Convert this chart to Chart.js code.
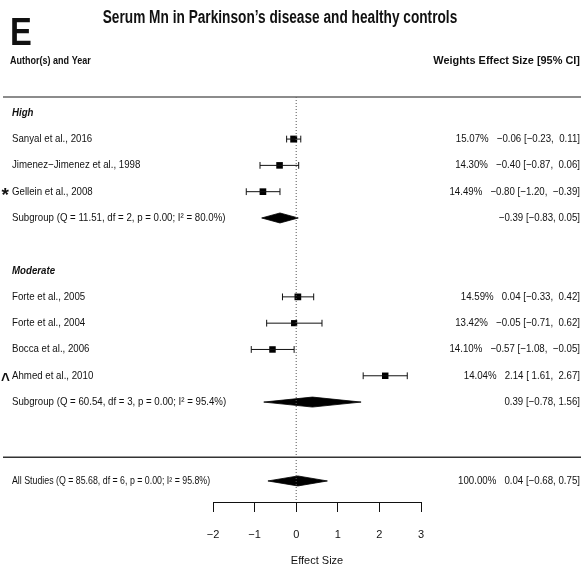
<!DOCTYPE html>
<html>
<head>
<meta charset="utf-8">
<script src="https://cdn.jsdelivr.net/npm/chart.js@4.4.1/dist/chart.umd.min.js"></script>
<style>
  html, body { margin: 0; padding: 0; background: #fff; }
  #wrap { width: 581px; height: 569px; position: relative; }
</style>
</head>
<body>
<div id="wrap"><canvas id="forest" width="581" height="569"></canvas></div>
<script>
// ---- Study-level data (standardised mean difference, 95% CI, weight) ----
const studyLabels  = ['Sanyal et al., 2016', 'Jimenez\u2212Jimenez et al., 1998', 'Gellein et al., 2008',
                      'Forte et al., 2005', 'Forte et al., 2004', 'Bocca et al., 2006', 'Ahmed et al., 2010'];
const studyFlags   = ['', '', '*', '', '', '', '^'];
const studyRows    = [1, 2, 3, 7, 8, 9, 10];
const studyEst     = [-0.06, -0.40, -0.80, 0.04, -0.05, -0.57, 2.14];
const studyLower   = [-0.23, -0.87, -1.20, -0.33, -0.71, -1.08, 1.61];
const studyUpper   = [0.11, 0.06, -0.39, 0.42, 0.62, -0.05, 2.67];
const studyWeights = [15.07, 14.30, 14.49, 14.59, 13.42, 14.10, 14.04];

// ---- Subgroups ----
const groupNames    = ['High', 'Moderate'];
const groupRows     = [0, 6];
const subgroupRows  = [4, 11];
const subgroupEst   = [-0.39, 0.39];
const subgroupLower = [-0.83, -0.78];
const subgroupUpper = [0.05, 1.56];
const subgroupQ     = [11.51, 60.54];
const subgroupDf    = [2, 3];
const subgroupP     = [0.00, 0.00];
const subgroupI2    = [80.0, 95.4];

// ---- Pooled estimate ----
const overallRow   = 14;
const overallEst   = 0.04;
const overallLower = -0.68;
const overallUpper = 0.75;
const overallQ     = 85.68;
const overallDf    = 6;
const overallP     = 0.00;
const overallI2    = 95.8;

// ---- Axis ----
const xTicks = [-2, -1, 0, 1, 2, 3];
const rowTop = -0.6;
const rowBottom = 14.8;
const separatorRow = 13.1;

const FONT = "'Liberation Sans', Arial, Helvetica, sans-serif";
const SX = 0.88;
const MINUS = '\u2212';

function num(v, pad) {
  const s = Math.abs(v).toFixed(2);
  if (v < 0) return MINUS + s;
  return pad ? ' ' + s : s;
}
function ciText(est, lo, hi, pad) {
  return num(est, false) + ' [' + num(lo, pad) + ', ' + (pad ? ' ' : '') + (hi < 0 ? num(hi, false) : Math.abs(hi).toFixed(2)) + ']';
}
function hetText(prefix, q, df, p, i2) {
  return prefix + ' (Q = ' + q.toFixed(2) + ', df = ' + df + ', p = ' + p.toFixed(2) + '; I\u00B2 = ' + i2.toFixed(1) + '%)';
}

function drawText(ctx, s, x, y, o) {
  ctx.save();
  ctx.font = (o.style || 'normal') + ' ' + (o.weight || 'normal') + ' ' + o.size + 'px ' + FONT;
  ctx.fillStyle = o.color || '#111';
  ctx.textAlign = o.align || 'left';
  ctx.textBaseline = o.baseline || 'middle';
  ctx.translate(x, y);
  ctx.scale(o.sx !== undefined ? o.sx : SX, 1);
  ctx.fillText(s, 0, 0);
  ctx.restore();
}

// ---- Datasets ----
const datasets = [];

// vertical reference line at zero effect
datasets.push({
  type: 'line',
  data: [{ x: 0, y: rowTop }, { x: 0, y: rowBottom }],
  borderColor: '#555', borderWidth: 1, borderDash: [1, 2],
  pointRadius: 0, fill: false
});

// confidence-interval whiskers with end caps
studyRows.forEach((r, i) => {
  datasets.push({
    type: 'line',
    data: [{ x: studyLower[i], y: r }, { x: studyUpper[i], y: r }],
    borderColor: '#111', borderWidth: 1,
    pointStyle: 'line', pointRotation: 90, pointRadius: 3.4,
    pointBorderColor: '#111', pointBorderWidth: 1, fill: false
  });
});

// weighted squares
datasets.push({
  type: 'scatter',
  data: studyRows.map((r, i) => ({ x: studyEst[i], y: r })),
  pointStyle: 'rect',
  pointRadius: studyWeights.map(w => (w * 0.46) / Math.SQRT2),
  backgroundColor: '#000', borderColor: '#000', borderWidth: 0
});

// summary diamonds
function diamond(row, est, lo, hi) {
  const h = 0.19;
  return {
    type: 'line',
    data: [{ x: lo, y: row }, { x: est, y: row - h }, { x: hi, y: row }, { x: est, y: row + h }, { x: lo, y: row }],
    borderColor: '#000', borderWidth: 0.8, backgroundColor: '#000',
    fill: 'shape', pointRadius: 0, tension: 0
  };
}
subgroupRows.forEach((r, i) => datasets.push(diamond(r, subgroupEst[i], subgroupLower[i], subgroupUpper[i])));
datasets.push(diamond(overallRow, overallEst, overallLower, overallUpper));

// ---- Annotation layer: titles, labels, statistics, separators ----
const annotations = {
  id: 'annotations',
  afterDraw(chart) {
    const ctx = chart.ctx;
    const y = chart.scales.y;
    const W = chart.width;

    // separators
    ctx.save();
    ctx.strokeStyle = '#666'; ctx.lineWidth = 1.6;
    ctx.beginPath(); ctx.moveTo(3, y.getPixelForValue(rowTop)); ctx.lineTo(W, y.getPixelForValue(rowTop)); ctx.stroke();
    ctx.strokeStyle = '#333'; ctx.lineWidth = 1.4;
    ctx.beginPath(); ctx.moveTo(3, y.getPixelForValue(separatorRow)); ctx.lineTo(W, y.getPixelForValue(separatorRow)); ctx.stroke();
    ctx.restore();

    // panel letter and title
    drawText(ctx, 'E', 10, 45, { size: 38, weight: 'bold', baseline: 'alphabetic', sx: 0.86, color: '#111' });
    drawText(ctx, 'Serum Mn in Parkinson\u2019s disease and healthy controls', 280, 23,
      { size: 18, weight: 'bold', align: 'center', baseline: 'alphabetic', sx: 0.76 });

    // column headers
    drawText(ctx, 'Author(s) and Year', 10, 64, { size: 11, weight: 'bold', baseline: 'alphabetic', sx: 0.82 });
    drawText(ctx, 'Weights Effect Size [95% CI]', 580, 64, { size: 11.5, weight: 'bold', align: 'right', baseline: 'alphabetic', sx: 0.95 });

    // group headings
    groupRows.forEach((r, i) => drawText(ctx, groupNames[i], 12, y.getPixelForValue(r),
      { size: 11, weight: 'bold', style: 'italic' }));

    // studies
    studyRows.forEach((r, i) => {
      const py = y.getPixelForValue(r);
      drawText(ctx, studyLabels[i], 12, py, { size: 11 });
      const right = studyWeights[i].toFixed(2) + '%   ' + ciText(studyEst[i], studyLower[i], studyUpper[i], true);
      drawText(ctx, right, 580, py, { size: 11, align: 'right' });
      if (studyFlags[i] === '*') {
        drawText(ctx, '*', 1.5, py + 9, { size: 19, weight: 'bold', baseline: 'alphabetic', sx: 1 });
      } else if (studyFlags[i] === '^') {
        drawText(ctx, '^', 1, py + 10, { size: 19, weight: 'bold', baseline: 'alphabetic', sx: 0.8 });
      }
    });

    // subgroup summaries
    subgroupRows.forEach((r, i) => {
      const py = y.getPixelForValue(r);
      drawText(ctx, hetText('Subgroup', subgroupQ[i], subgroupDf[i], subgroupP[i], subgroupI2[i]), 12, py, { size: 11 });
      drawText(ctx, ciText(subgroupEst[i], subgroupLower[i], subgroupUpper[i], false), 580, py, { size: 11, align: 'right' });
    });

    // overall summary
    const oy = y.getPixelForValue(overallRow);
    drawText(ctx, hetText('All Studies', overallQ, overallDf, overallP, overallI2), 12, oy, { size: 10 });
    drawText(ctx, '100.00%   ' + ciText(overallEst, overallLower, overallUpper, false), 580, oy, { size: 11, align: 'right' });
  }
};

new Chart(document.getElementById('forest'), {
  type: 'scatter',
  data: { datasets },
  options: {
    responsive: false,
    animation: false,
    devicePixelRatio: 1,
    layout: { padding: { left: 213, right: 160, top: 97, bottom: 0 } },
    plugins: { legend: { display: false }, tooltip: { enabled: false } },
    elements: { line: { tension: 0 } },
    scales: {
      x: {
        type: 'linear', min: xTicks[0], max: xTicks[xTicks.length - 1], position: 'bottom',
        afterBuildTicks: s => { s.ticks = xTicks.map(v => ({ value: v })); },
        afterFit: s => { s.height = 67; },
        border: { display: true, color: '#111', width: 1 },
        grid: { drawOnChartArea: false, drawTicks: true, tickLength: 10, color: '#111', lineWidth: 1 },
        ticks: {
          color: '#111', padding: 16, font: { family: FONT, size: 11 },
          maxRotation: 0, autoSkip: false,
          callback: v => (v < 0 ? MINUS + Math.abs(v) : String(v))
        },
        title: { display: true, text: 'Effect Size', color: '#111', font: { family: FONT, size: 11 }, padding: { top: 0, bottom: 1 } }
      },
      y: { type: 'linear', reverse: true, min: rowTop, max: rowBottom, display: false }
    }
  },
  plugins: [annotations]
});
</script>
</body>
</html>
